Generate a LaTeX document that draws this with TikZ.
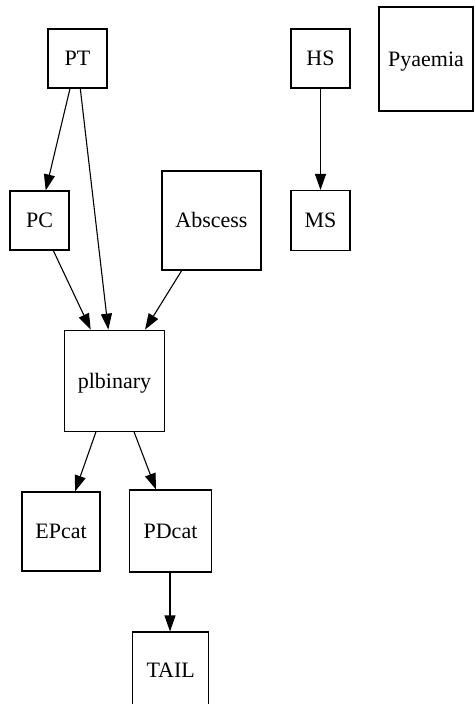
\documentclass[tikz,border=0pt]{standalone}
\usepackage{fontspec}
\setmainfont{Liberation Serif}
\usetikzlibrary{arrows.meta}
\begin{document}
\begin{tikzpicture}[x=1pt,y=-1pt,
  nbox/.style={draw, line width=1.1pt, inner sep=0pt, anchor=center,
    font=\fontsize{22}{26}\selectfont, text height=14.6pt, text depth=0pt},
  edge/.style={line width=1.1pt, -{Triangle[length=16pt,width=11pt]}}]
\useasboundingbox (0,0) rectangle (475,704);
\node[nbox, minimum width=59pt, minimum height=59pt] (PT) at (77.5,58.5) {PT};
\node[nbox, minimum width=59pt, minimum height=59pt] (HS) at (320.5,58.5) {HS};
\node[nbox, minimum width=94pt, minimum height=104pt] (Pyaemia) at (426,59) {Pyaemia};
\node[nbox, minimum width=59pt, minimum height=59pt] (PC) at (39.5,220.5) {PC};
\node[nbox, minimum width=99pt, minimum height=99pt] (Abscess) at (211.5,220.5) {Abscess};
\node[nbox, minimum width=59pt, minimum height=60pt] (MS) at (320.5,220.5) {MS};
\node[nbox, minimum width=100pt, minimum height=101pt] (plbinary) at (114.5,380.7) {plbinary};
\node[nbox, minimum width=78pt, minimum height=79pt] (EPcat) at (61,531.5) {EPcat};
\node[nbox, minimum width=82pt, minimum height=82pt] (PDcat) at (170.5,531) {PDcat};
\node[nbox, minimum width=76pt, minimum height=76pt] (TAIL) at (170.7,670) {TAIL};
\draw[edge] ([xshift=-7.5pt]PT.south) -- ([xshift=6.2pt]PC.north);
\draw[edge] ([xshift=2.8pt]PT.south) -- ([xshift=-6.2pt]plbinary.north);
\draw[edge] ([xshift=13.8pt]PC.south) -- ([xshift=-23.8pt]plbinary.north);
\draw[edge] ([xshift=-29.8pt]Abscess.south) -- ([xshift=30.5pt]plbinary.north);
\draw[edge] (HS.south) -- (MS.north);
\draw[edge] ([xshift=-18.5pt]plbinary.south) -- ([xshift=14pt]EPcat.north);
\draw[edge] ([xshift=19.5pt]plbinary.south) -- ([xshift=-14.5pt]PDcat.north);
\draw[edge] ([xshift=-0.5pt]PDcat.south) -- ([xshift=-0.7pt]TAIL.north);
\end{tikzpicture}
\end{document}
